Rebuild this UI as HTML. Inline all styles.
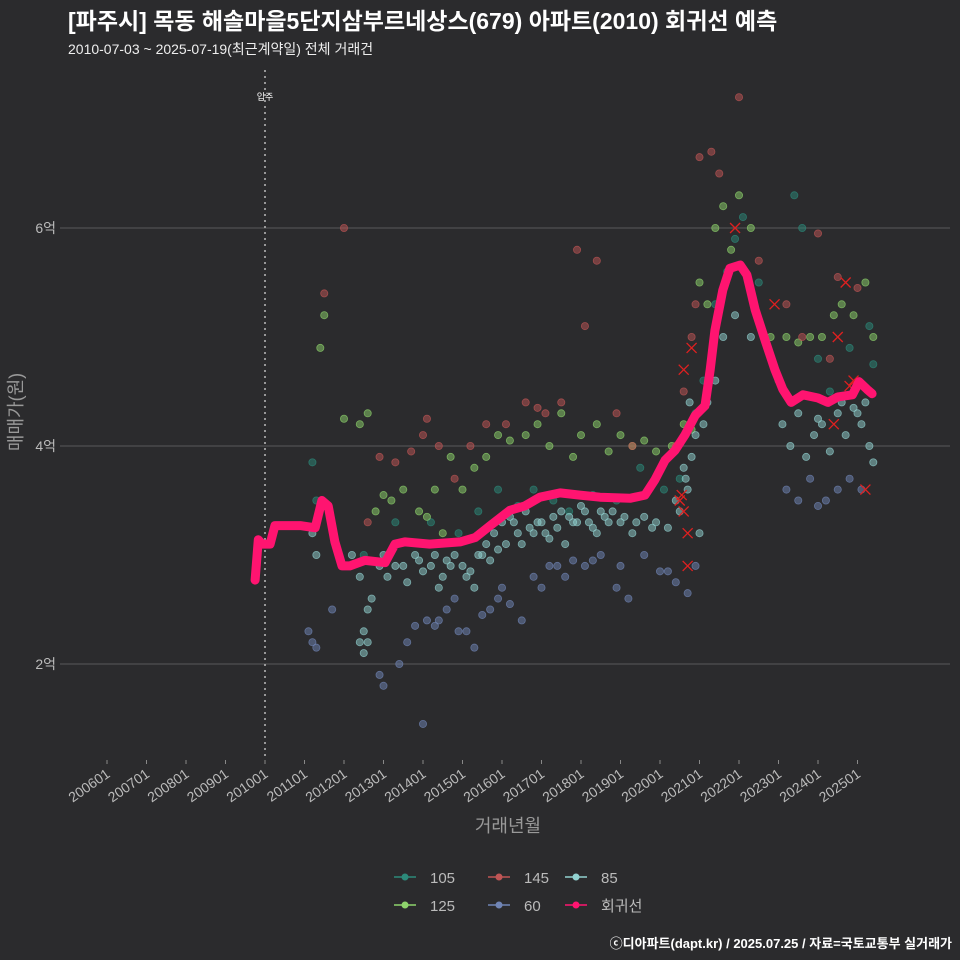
<!DOCTYPE html>
<html><head><meta charset="utf-8">
<style>
html,body{margin:0;padding:0;background:#2b2b2d;}
svg{display:block;font-family:"Liberation Sans","Noto Sans CJK KR",sans-serif;}
</style></head>
<body>
<svg id="chart" width="960" height="960" viewBox="0 0 960 960">
<rect width="960" height="960" fill="#2b2b2d"/>
<text x="68" y="29" fill="#fff" font-size="23" font-weight="bold">[파주시] 목동 해솔마을5단지삼부르네상스(679) 아파트(2010) 회귀선 예측</text>
<text x="68" y="54" fill="#eee" font-size="14">2010-07-03 ~ 2025-07-19(최근계약일) 전체 거래건</text>
<g id="grid"></g>
<g id="points"></g>
<g id="line"></g>
<g id="xaxis"></g>
<text x="508" y="832" fill="#999" font-size="18" text-anchor="middle">거래년월</text>
<text transform="translate(22,412) rotate(-90)" fill="#999" font-size="18" text-anchor="middle">매매가(원)</text>
<g id="legend"></g>
<text x="952" y="948" fill="#fff" font-size="13" font-weight="bold" text-anchor="end">ⓒ디아파트(dapt.kr) / 2025.07.25 / 자료=국토교통부 실거래가</text>
</svg>
<script>
const yTicks=[2,4,6];
const yTickLabels=["2억","4억","6억"];
const xTickYears=[2006,2007,2008,2009,2010,2011,2012,2013,2014,2015,2016,2017,2018,2019,2020,2021,2022,2023,2024,2025];
const moveInYear=2010.0;
const s85Years=[2011.2,2011.3,2012.2,2012.4,2012.4,2012.5,2012.6,2012.7,2012.9,2013.1,2013.3,2013.6,2013.8,2014.0,2014.2,2014.4,2014.6,2014.8,2015.0,2015.1,2015.3,2015.4,2015.6,2015.8,2016.0,2016.2,2016.4,2016.5,2016.7,2016.9,2017.1,2017.3,2017.5,2017.6,2017.8,2018.0,2018.2,2018.4,2018.6,2018.8,2019.0,2019.3,2019.6,2019.9,2020.2,2020.4,2020.6,2020.7,2020.8,2020.9,2021.0,2021.1,2021.2,2021.4,2021.6,2021.9,2022.3,2023.1,2023.3,2023.5,2023.7,2023.9,2024.1,2024.3,2024.5,2024.7,2024.9,2025.1,2025.3,2025.4,2025.2,
2012.5,2012.6,2013.0,2013.5,2013.9,2014.3,2014.5,2014.7,2015.2,2015.5,2015.7,2015.9,2016.1,2016.3,2016.6,2016.8,2017.0,2017.2,2017.4,2017.7,2017.9,2018.1,2018.3,2018.5,2018.7,2019.1,2019.4,2019.8,2020.5,2020.65,2020.75,2024.0,2024.6,2025.0];
const s85Vals=[3.2,3.0,3.0,2.8,2.2,2.1,2.5,2.6,2.9,2.8,2.9,2.75,3.0,2.85,2.9,2.7,2.95,3.0,2.9,2.8,2.7,3.0,3.1,3.2,3.3,3.35,3.2,3.1,3.25,3.3,3.2,3.35,3.4,3.1,3.3,3.45,3.3,3.2,3.35,3.4,3.3,3.2,3.35,3.3,3.25,3.5,3.8,3.6,3.9,4.1,3.2,4.2,4.4,4.6,5.0,5.2,5.0,4.2,4.0,4.3,3.9,4.1,4.2,3.95,4.3,4.1,4.35,4.2,4.0,3.85,4.4,
2.3,2.2,3.0,2.9,2.95,3.0,2.8,2.9,2.85,3.0,2.95,3.05,3.1,3.3,3.4,3.2,3.3,3.15,3.25,3.35,3.3,3.4,3.25,3.4,3.3,3.35,3.3,3.25,3.4,3.7,4.4,4.25,4.4,4.3];
const s60Years=[2011.1,2011.2,2011.3,2011.7,2012.9,2013.0,2013.4,2013.8,2014.0,2014.1,2014.3,2014.6,2014.9,2015.3,2015.5,2015.9,2016.2,2016.5,2016.8,2017.0,2017.4,2017.8,2018.1,2018.5,2018.9,2019.2,2019.6,2020.0,2020.4,2020.7,2020.9,2023.2,2023.5,2023.8,2024.0,2024.2,2024.5,2024.8,2025.1,2013.6,2014.4,2014.8,2015.1,2015.7,2016.0,2017.2,2017.6,2018.3,2019.0,2020.2];
const s60Vals=[2.3,2.2,2.15,2.5,1.9,1.8,2.0,2.35,1.45,2.4,2.35,2.5,2.3,2.15,2.45,2.6,2.55,2.4,2.8,2.7,2.9,2.95,2.9,3.0,2.7,2.6,3.0,2.85,2.75,2.65,2.9,3.6,3.5,3.7,3.45,3.5,3.6,3.7,3.6,2.2,2.4,2.6,2.3,2.5,2.7,2.9,2.8,2.95,2.9,2.85];
const s125Years=[2011.4,2011.5,2012.0,2012.4,2012.6,2012.8,2013.0,2013.2,2013.5,2013.9,2014.1,2014.3,2014.5,2014.7,2015.0,2015.3,2015.6,2015.9,2016.2,2016.6,2016.9,2017.2,2017.5,2017.8,2018.0,2018.4,2018.7,2019.0,2019.3,2019.6,2019.9,2020.3,2020.6,2020.8,2021.0,2021.2,2021.4,2021.6,2021.8,2022.0,2022.3,2022.8,2023.2,2023.5,2023.8,2024.1,2024.4,2024.6,2024.9,2025.2,2025.4];
const s125Vals=[4.9,5.2,4.25,4.2,4.3,3.4,3.55,3.5,3.6,3.4,3.35,3.6,3.2,3.9,3.6,3.8,3.9,4.1,4.05,4.1,4.2,4.0,4.3,3.9,4.1,4.2,3.95,4.1,4.0,4.05,3.95,4.0,4.2,4.15,5.5,5.3,6.0,6.2,5.8,6.3,6.0,5.0,5.0,4.95,5.0,5.0,5.2,5.3,5.2,5.5,5.0];
const s105Years=[2011.2,2011.3,2012.5,2013.3,2014.2,2014.9,2015.4,2015.9,2016.4,2016.8,2017.3,2017.7,2018.3,2018.9,2019.5,2020.1,2020.5,2020.9,2021.1,2021.4,2021.7,2021.9,2022.1,2022.5,2023.0,2023.4,2023.6,2024.0,2024.3,2024.8,2025.3,2025.4];
const s105Vals=[3.85,3.5,3.0,3.3,3.3,3.2,3.4,3.6,3.45,3.6,3.5,3.4,3.55,3.5,3.8,3.6,3.7,4.3,4.6,5.3,5.6,5.9,6.1,5.5,4.6,6.3,6.0,4.8,4.5,4.9,5.1,4.75];
const s145Years=[2011.5,2012.0,2012.6,2012.9,2013.3,2013.7,2014.0,2014.1,2014.4,2014.8,2015.2,2015.6,2016.1,2016.6,2016.9,2017.1,2017.5,2017.9,2018.1,2018.4,2018.9,2019.3,2020.2,2020.4,2020.6,2020.8,2020.9,2021.0,2021.3,2021.5,2022.0,2022.5,2023.2,2023.6,2024.0,2024.3,2024.5,2025.0];
const s145Vals=[5.4,6.0,3.3,3.9,3.85,3.95,4.1,4.25,4.0,3.7,4.0,4.2,4.2,4.4,4.35,4.3,4.4,5.8,5.1,5.7,4.3,4.0,3.9,4.0,4.5,5.0,5.3,6.65,6.7,6.5,7.2,5.7,5.3,5.0,5.95,4.8,5.55,5.45];
const cancelYears=[2020.5,2020.55,2020.6,2020.7,2020.7,2020.6,2020.8,2021.9,2022.9,2024.4,2024.5,2024.7,2024.8,2024.9,2025.2];
const cancelVals=[3.5,3.55,3.4,3.2,2.9,4.7,4.9,6.0,5.3,4.2,5.0,5.5,4.55,4.6,3.6];
const regYears=[2009.75,2009.83,2009.93,2010.13,2010.25,2010.89,2011.27,2011.44,2011.6,2011.77,2011.95,2012.15,2012.53,2013.04,2013.29,2013.54,2014.17,2014.94,2015.32,2015.7,2016.2,2016.58,2016.96,2017.47,2017.97,2018.48,2019.24,2019.62,2019.87,2020.13,2020.38,2020.63,2020.89,2021.14,2021.27,2021.39,2021.59,2021.77,2022.03,2022.2,2022.41,2022.66,2022.91,2023.11,2023.32,2023.62,2024.0,2024.25,2024.5,2024.87,2025.04,2025.24,2025.37];
const regVals=[2.77,3.14,3.1,3.1,3.27,3.27,3.25,3.5,3.45,3.12,2.9,2.9,2.95,2.93,3.1,3.12,3.1,3.12,3.16,3.27,3.41,3.45,3.53,3.57,3.55,3.53,3.52,3.55,3.69,3.87,3.96,4.1,4.28,4.37,4.7,5.06,5.43,5.63,5.66,5.57,5.25,4.97,4.7,4.52,4.4,4.47,4.44,4.4,4.45,4.47,4.59,4.52,4.48];

const NS="http://www.w3.org/2000/svg";
function X(yr){return 265+(yr-2010)*39.5;}
function Y(v){return 664-(v-2)*109;}
function mk(tag,attrs,parent){const e=document.createElementNS(NS,tag);for(const k in attrs)e.setAttribute(k,attrs[k]);parent.appendChild(e);return e;}

const grid=document.getElementById('grid');
yTicks.forEach((v,i)=>{
  const l=mk('line',{x1:60,x2:950,y1:Y(v),y2:Y(v),stroke:'#5a5a5a','stroke-width':1},grid);
  
  
  const t=mk('text',{x:56,y:Y(v)+5,fill:'#bbb','font-size':14,'text-anchor':'end'},grid);
  t.textContent=yTickLabels[i];
  
  
});
const vl=mk('line',{x1:X(moveInYear),x2:X(moveInYear),y1:70,y2:760,stroke:'#bbb','stroke-width':1.5,'stroke-dasharray':'2,4'},grid);


const vt=mk('text',{x:X(moveInYear),y:100,fill:'#fff','font-size':9,'text-anchor':'middle'},grid);
vt.textContent='입주';



const pts=document.getElementById('points');
const series=[
 ['105',s105Years,s105Vals,'#2c8a7a'],
 ['125',s125Years,s125Vals,'#8ed46c'],
 ['145',s145Years,s145Vals,'#c05555'],
 ['60',s60Years,s60Vals,'#7085b5'],
 ['85',s85Years,s85Vals,'#92d2d0']
];
series.forEach(s=>{
  s[1].forEach((yr,i)=>{
    const c=mk('circle',{cx:X(yr),cy:Y(s[2][i]),r:3.6,fill:s[3],'fill-opacity':0.5,stroke:s[3],'stroke-opacity':0.7,'stroke-width':0.8},pts);
    
    
  });
});
cancelYears.forEach((yr,i)=>{
  const x=X(yr),y=Y(cancelVals[i]);
  const p=mk('path',{d:`M${x-5},${y-5}L${x+5},${y+5}M${x-5},${y+5}L${x+5},${y-5}`,stroke:'#e02020','stroke-width':1.3,fill:'none'},pts);
  
  
});

const lg=document.getElementById('line');
const d=regYears.map((yr,i)=>(i?'L':'M')+X(yr).toFixed(1)+','+Y(regVals[i]).toFixed(1)).join('');
const rl=mk('path',{d:d,stroke:'#ff1470',fill:'none','stroke-width':9,'stroke-linejoin':'round','stroke-linecap':'round'},lg);



const xa=document.getElementById('xaxis');
xTickYears.forEach(yr=>{
  const x=X(yr);
  const tk=mk('line',{x1:x,x2:x,y1:760,y2:764,stroke:'#888'},xa);
  
  
  const t=mk('text',{transform:`translate(${x+4},${776}) rotate(-35)`,fill:'#bbb','font-size':14,'text-anchor':'end'},xa);
  t.textContent=yr+'01';
  
  
});

const leg=document.getElementById('legend');
const legItems=[['105','#2c8a7a',400,877],['145','#c05555',494,877],['85','#92d2d0',571,877],['125','#8ed46c',400,905],['60','#7085b5',494,905],['회귀선','#ff1470',571,905]];
legItems.forEach(it=>{
  const g=mk('g',{},leg);
  
  
  mk('line',{x1:it[2]-6,x2:it[2]+16,y1:it[3],y2:it[3],stroke:it[1],'stroke-width':1.5},g);
  mk('circle',{cx:it[2]+5,cy:it[3],r:3.5,fill:it[1]},g);
  const t=mk('text',{x:it[2]+30,y:it[3]+6,fill:'#bbb','font-size':15},g);
  t.textContent=it[0];
});
</script>
</body></html>
